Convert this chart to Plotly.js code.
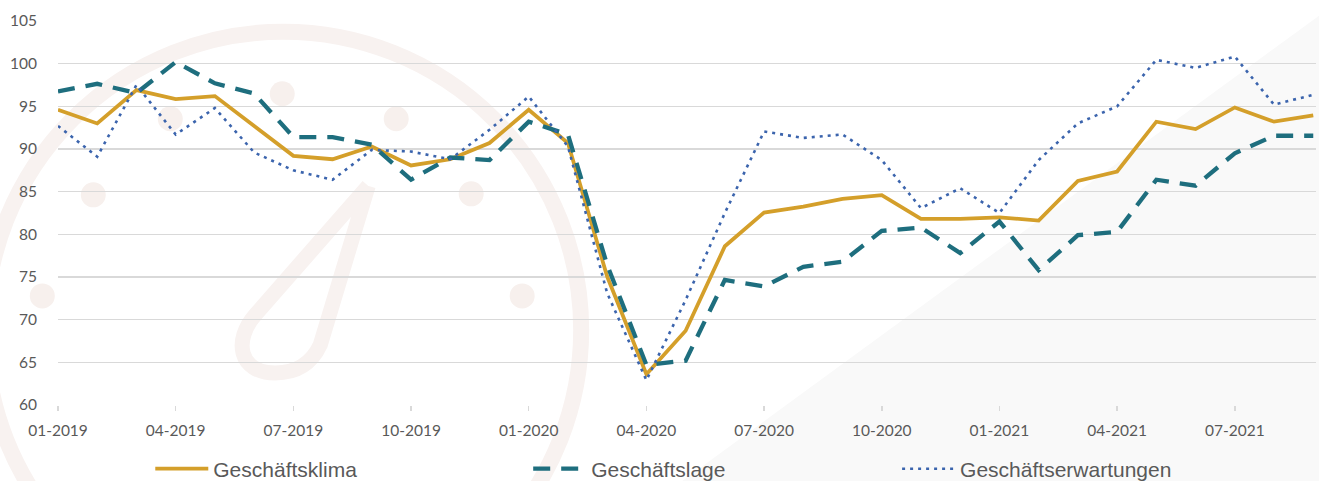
<!DOCTYPE html>
<html>
<head>
<meta charset="utf-8">
<script src="https://cdn.plot.ly/plotly-3.0.1.min.js"></script>
<style>
  html, body { margin: 0; padding: 0; background: #ffffff; }
  #chart { width: 1319px; height: 481px; }
</style>
</head>
<body>
<div id="chart"></div>
<script>
// ---- Data ----
const months = [
  "01-2019","02-2019","03-2019","04-2019","05-2019","06-2019","07-2019","08-2019","09-2019","10-2019","11-2019","12-2019",
  "01-2020","02-2020","03-2020","04-2020","05-2020","06-2020","07-2020","08-2020","09-2020","10-2020","11-2020","12-2020",
  "01-2021","02-2021","03-2021","04-2021","05-2021","06-2021","07-2021","08-2021","09-2021"
];
const tickLabels = ["01-2019","04-2019","07-2019","10-2019","01-2020","04-2020","07-2020","10-2020","01-2021","04-2021","07-2021"];

const geschaeftsklima = [
  94.6, 93.0, 96.9, 95.85, 96.2, 92.7, 89.2, 88.8, 90.3, 88.07, 88.8, 90.7,
  94.6, 90.7, 75.05, 63.6, 68.7, 78.6, 82.55, 83.25, 84.16, 84.6, 81.8, 81.8,
  82.0, 81.6, 86.27, 87.36, 93.2, 92.33, 94.87, 93.2, 93.93
];
const geschaeftslage = [
  96.74, 97.64, 96.55, 100.19, 97.7, 96.5, 91.4, 91.4, 90.5, 86.4, 89.0, 88.7,
  93.2, 91.7, 76.4, 64.7, 65.2, 74.66, 73.9, 76.2, 76.8, 80.4, 80.8, 77.8,
  81.5, 75.8, 79.9, 80.3, 86.4, 85.7, 89.5, 91.55, 91.55
];
const geschaeftserwartungen = [
  92.7, 89.1, 97.5, 91.7, 94.8, 89.6, 87.5, 86.4, 89.9, 89.7, 88.8, 92.25,
  96.15, 90.3, 73.1, 62.9, 72.3, 82.5, 92.05, 91.3, 91.7, 88.7, 83.07, 85.4,
  82.5, 88.7, 93.0, 95.0, 100.45, 99.5, 100.84, 95.2, 96.35
];
const seriesNames = ["Geschäftsklima", "Geschäftslage", "Geschäftserwartungen"];

// ---- Layout geometry ----
const W = 1319, H = 481;
const M = { l: 57.7, r: 3, t: 21.3, b: 76, autoexpand: false };
const pw = W - M.l - M.r, ph = H - M.t - M.b;
const fx = x => (x - M.l) / pw;
const fy = y => (H - M.b - y) / ph;

// decorative watermark shapes (background)
const wm = '#f8f2f0';
const shapes = [];
shapes.push({
  type: 'path', xref: 'paper', yref: 'paper', layer: 'below',
  path: `M ${fx(682)},${fy(481)} L ${fx(1319)},${fy(481)} L ${fx(1319)},${fy(16)} Z`,
  fillcolor: '#f9f9f9', line: { width: 0 }
});
shapes.push({
  type: 'circle', xref: 'paper', yref: 'paper', layer: 'below',
  x0: fx(283 - 298), x1: fx(283 + 298), y0: fy(330 + 298), y1: fy(330 - 298),
  line: { color: wm, width: 16 }
});
[[93,195],[282,94],[170,119],[396,119],[471,194],[42,296],[522,296]].forEach(p => {
  shapes.push({
    type: 'circle', xref: 'paper', yref: 'paper', layer: 'below',
    x0: fx(p[0] - 12.5), x1: fx(p[0] + 12.5), y0: fy(p[1] + 12.5), y1: fy(p[1] - 12.5),
    fillcolor: '#f7f0ed', line: { width: 0 }
  });
});
const P = (x, y) => `${fx(x)},${fy(y)}`;
shapes.push({
  type: 'path', xref: 'paper', yref: 'paper', layer: 'below',
  path: `M ${P(368,186)} L ${P(255,315)} C ${P(233,340)} ${P(238,373)} ${P(275,373)} C ${P(300,373)} ${P(313,360)} ${P(320,345)} L ${P(368,186)}`,
  line: { color: wm, width: 15 }
});

const xs = months.map((m, i) => i);
const tickvals = tickLabels.map(t => months.indexOf(t));

const traces = [
  { x: xs, y: geschaeftsklima, name: seriesNames[0], type: 'scatter', mode: 'lines', legend: 'legend', showlegend: true,
    line: { color: '#d49f2a', width: 3.75 } },
  { x: xs, y: geschaeftslage, name: seriesNames[1], type: 'scatter', mode: 'lines', legend: 'legend2', showlegend: true,
    line: { color: '#1e6e7e', width: 4.3, dash: '17px,11px' } },
  { x: xs, y: geschaeftserwartungen, name: seriesNames[2], type: 'scatter', mode: 'lines', legend: 'legend3', showlegend: true,
    line: { color: '#3b64ad', width: 2.6, dash: '3px,5px' } }
];

const legendBase = (xpx) => ({
  orientation: 'h',
  x: fx(xpx), xanchor: 'left',
  y: fy(469), yanchor: 'middle',
  itemwidth: 53,
  font: { family: '"Liberation Sans", Arial, sans-serif', size: 21, color: '#595959' },
  bgcolor: 'rgba(0,0,0,0)', borderwidth: 0
});

const layout = {
  width: W, height: H,
  margin: M,
  paper_bgcolor: '#ffffff',
  plot_bgcolor: 'rgba(0,0,0,0)',
  hovermode: false,
  showlegend: true,
  xaxis: {
    range: [0, 32.07],
    tickvals: tickvals, ticktext: tickLabels,
    ticks: 'outside', ticklen: 5, tickwidth: 1.5, tickcolor: '#d9d9d9',
    showgrid: false, zeroline: false,
    showline: false,
    tickfont: { family: 'Lato, "Open Sans", sans-serif', size: 15.5, color: '#595959' },
    ticklabelstandoff: 6,
    fixedrange: true
  },
  yaxis: {
    range: [60, 105],
    tickvals: [60,65,70,75,80,85,90,95,100,105],
    ticks: '', showgrid: true, gridcolor: '#d9d9d9', gridwidth: 1.4,
    zeroline: false, showline: false,
    tickfont: { family: 'Lato, "Open Sans", sans-serif', size: 15.5, color: '#595959' },
    ticklabelstandoff: 20,
    fixedrange: true
  },
  legend: legendBase(150),
  legend2: legendBase(528),
  legend3: legendBase(897),
  shapes: shapes
};

Plotly.newPlot('chart', traces, layout, { displayModeBar: false, staticPlot: true });
</script>
</body>
</html>
